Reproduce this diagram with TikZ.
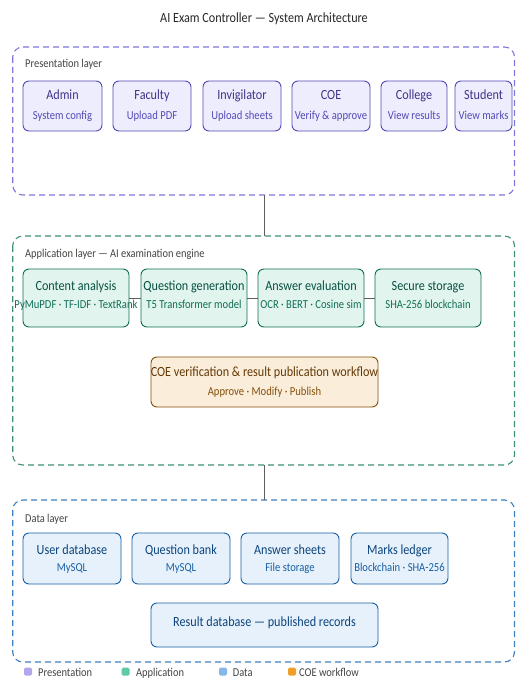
\documentclass[tikz,border=0pt]{standalone}
\usepackage{fontspec}
\setmainfont[FakeStretch=0.87]{Carlito}
\definecolor{pB}{HTML}{534AB7}\definecolor{pF}{HTML}{EEEDFE}\definecolor{pT}{HTML}{3C3489}\definecolor{pD}{HTML}{7F77DD}\definecolor{pL}{HTML}{AFA9EC}
\definecolor{aB}{HTML}{0F6E56}\definecolor{aF}{HTML}{E1F5EE}\definecolor{aT}{HTML}{085041}\definecolor{aD}{HTML}{3E8F78}\definecolor{aL}{HTML}{5DCAA5}
\definecolor{dB}{HTML}{185FA5}\definecolor{dF}{HTML}{E6F1FB}\definecolor{dT}{HTML}{0C447C}\definecolor{dD}{HTML}{3E7FC0}\definecolor{dL}{HTML}{85B7EB}
\definecolor{oB}{HTML}{854F0B}\definecolor{oF}{HTML}{FAEEDA}\definecolor{oT}{HTML}{633806}\definecolor{oL}{HTML}{EF9F27}
\definecolor{gC}{HTML}{5F5E5A}\definecolor{gT}{HTML}{444441}
\tikzset{
 layerbox/.style={draw=#1,line width=1.1pt,dash pattern=on 6pt off 4pt,rounded corners=10pt},
 cbox/.style={draw=#1,line width=0.9pt,rounded corners=6pt},
 ttl/.style={anchor=base,font=\fontsize{14}{16}\selectfont,text=#1,inner sep=0pt},
 sub/.style={anchor=base,font=\fontsize{12.2}{14}\selectfont,text=#1,inner sep=0pt},
 lbl/.style={anchor=base west,font=\fontsize{12}{13}\selectfont,text=gT,inner sep=0pt},
 conn/.style={draw=gC,line width=1pt},
 legsq/.style={fill=#1,rounded corners=1.5pt},
}
\begin{document}
\begin{tikzpicture}[x=1pt,y=-1pt]
\useasboundingbox (0,0) rectangle (516,682);
\node[anchor=base,font=\fontsize{14}{16}\selectfont,text=black!85,inner sep=0pt] (title) at (264,23) {AI Exam Controller — System Architecture};
% layers
\draw[layerbox=pD,fill=white] (12.7,47) rectangle (514.5,195);
\coordinate (pbot) at (264,195);
\node[lbl] (plbl) at (25,68) {Presentation layer};
\draw[layerbox=aD] (12.7,236) rectangle (514.5,465);
\coordinate (atop) at (264,236);
\coordinate (abot) at (264,465);
\node[lbl] (albl) at (25,257) {Application layer — AI examination engine};
\draw[layerbox=dD] (12.7,500) rectangle (514.5,662);
\coordinate (dtop) at (264,500);
\node[lbl] (dlbl) at (25,522) {Data layer};
\draw[conn] (pbot) -- (atop);
\draw[conn] (abot) -- (dtop);
% presentation boxes
\foreach \nm/\xa/\xb/\t/\s in {admin/23/102/Admin/System config,faculty/113/191/Faculty/Upload PDF,invig/203/281/Invigilator/Upload sheets,coe/292/370/COE/Verify \& approve,college/381/447/College/View results,student/455/512/Student/View marks}{
 \draw[cbox=pB,fill=pF] (\xa,81) rectangle (\xb,131);
 \node[ttl=pT] (\nm-t) at ({(\xa+\xb)/2},100) {\t};
 \node[sub=pB] (\nm-s) at ({(\xa+\xb)/2},119.5) {\s};
}
% application boxes
\foreach \nm/\xa/\xb/\t/\s in {ca/23/129/Content analysis/PyMuPDF · TF-IDF · TextRank,qg/141/247/Question generation/T5 Transformer model,ae/258/364/Answer evaluation/OCR · BERT · Cosine sim,ss/375/481/Secure storage/SHA-256 blockchain}{
 \node[cbox=aB,fill=aF,minimum width={\xb-\xa},minimum height=58,inner sep=0pt] (\nm) at ({(\xa+\xb)/2},298) {};
 \node[ttl=aT] (\nm-t) at ({(\xa+\xb)/2},290) {\t};
 \node[sub=aB] (\nm-s) at ({(\xa+\xb)/2},308) {\s};
}
\draw[conn] (ca.east) -- (qg.west);
\draw[conn] (qg.east) -- (ae.west);
\draw[conn] (ae.east) -- (ss.west);
\draw[cbox=oB,fill=oF] (151,357) rectangle (378,407);
\node[ttl=oT] (coew-t) at (264.5,376.7) {COE verification \& result publication workflow};
\node[sub=oB] (coew-s) at (264.5,395) {Approve · Modify · Publish};
% data boxes
\foreach \nm/\xa/\xb/\t/\s in {udb/23/121/User database/MySQL,qb/132/230/Question bank/MySQL,as/241/339/Answer sheets/File storage,ml/351/448/Marks ledger/Blockchain · SHA-256}{
 \draw[cbox=dB,fill=dF] (\xa,533) rectangle (\xb,584);
 \node[ttl=dT] (\nm-t) at ({(\xa+\xb)/2},554) {\t};
 \node[sub=dB] (\nm-s) at ({(\xa+\xb)/2},571.7) {\s};
}
\draw[cbox=dB,fill=dF] (151,603) rectangle (378,647);
\node[ttl=dT] (rdb-t) at (264.5,626.7) {Result database — published records};
% legend
\foreach \nm/\x/\c/\t/\tx in {lp/24/pL/Presentation/38,la/121.7/aL/Application/136,ld/219/dL/Data/232.7,lo/288/oL/COE workflow/299}{
 \fill[legsq=\c] (\x,667.7) rectangle ++(8,8);
 \node[lbl] (\nm) at (\tx,676.7) {\t};
}
\end{tikzpicture}
\end{document}
